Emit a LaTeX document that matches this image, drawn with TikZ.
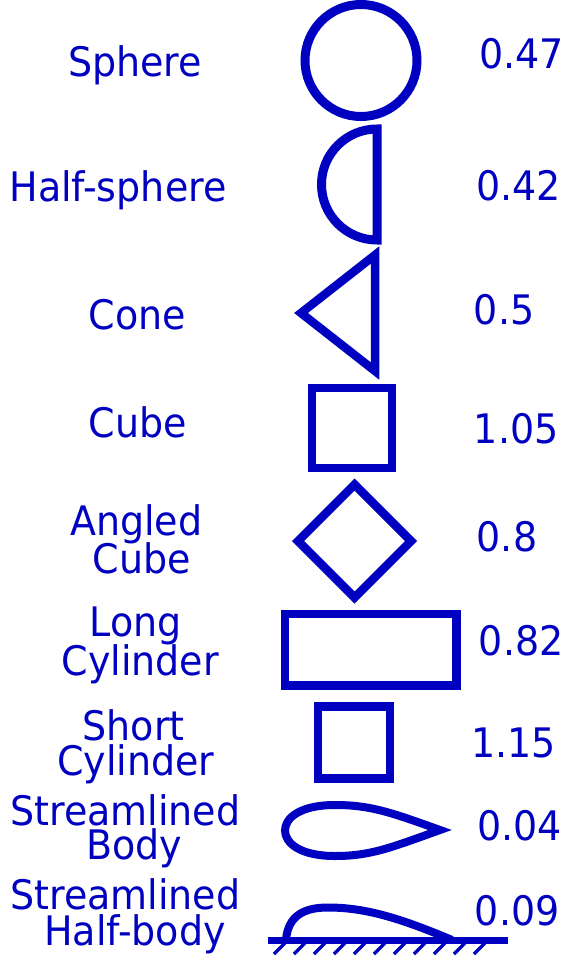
\documentclass[tikz,border=0pt]{standalone}
\usepackage{fontspec}
\setmainfont{DejaVu Sans}
\usepackage{graphicx}
\definecolor{dblue}{RGB}{0,0,192}
\newcommand\mystretch[1]{\scalebox{1}[1.07]{#1}}
\begin{document}
\begin{tikzpicture}[x=1pt,y=-1pt,
  lbl/.style={anchor=base,inner sep=0pt,text=dblue,font=\fontsize{38}{38}\selectfont},
  shp/.style={draw=dblue,line width=8.5pt,miter limit=10},
  hatchline/.style={draw=dblue,line width=3.5pt}]
\useasboundingbox (0,0) rectangle (566,958);
% labels
\node[lbl] (l1) at (135.2,76.7) {\mystretch{Sphere}};
\node[lbl] (l2) at (118,201.7) {\mystretch{Half-sphere}};
\node[lbl] (l3) at (137.5,329) {\mystretch{Cone}};
\node[lbl] (l4) at (137.8,437.3) {\mystretch{Cube}};
\node[lbl] (l5a) at (136.2,535) {\mystretch{Angled}};
\node[lbl] (l5b) at (141.8,573.3) {\mystretch{Cube}};
\node[lbl] (l6a) at (135.8,636.7) {\mystretch{Long}};
\node[lbl] (l6b) at (140.3,675) {\mystretch{Cylinder}};
\node[lbl] (l7a) at (133.7,740.7) {\mystretch{Short}};
\node[lbl] (l7b) at (135.7,775.7) {\mystretch{Cylinder}};
\node[lbl] (l8a) at (125.3,825.7) {\mystretch{Streamlined}};
\node[lbl] (l8b) at (134.5,859.3) {\mystretch{Body}};
\node[lbl] (l9a) at (125.3,909.3) {\mystretch{Streamlined}};
\node[lbl] (l9b) at (135,945) {\mystretch{Half-body}};
% values
\node[lbl] (v1) at (521.7,68.3) {\mystretch{0.47}};
\node[lbl] (v2) at (518.3,200) {\mystretch{0.42}};
\node[lbl] (v3) at (504.2,324.3) {\mystretch{0.5}};
\node[lbl] (v4) at (516.2,443.3) {\mystretch{1.05}};
\node[lbl] (v5) at (507,551.7) {\mystretch{0.8}};
\node[lbl] (v6) at (521.2,655.7) {\mystretch{0.82}};
\node[lbl] (v7) at (513.8,757.3) {\mystretch{1.15}};
\node[lbl] (v8) at (519.5,840.7) {\mystretch{0.04}};
\node[lbl] (v9) at (517.2,925) {\mystretch{0.09}};
% shapes
\draw[shp,line width=9pt] (361,60.5) circle[radius=56];
\draw[shp,line width=9pt] (377,129) arc[start angle=270,end angle=90,radius=55.5] -- cycle;
\draw[shp] (375,255) -- (301,313) -- (375,371) -- cycle;
\draw[shp] (312,388) rectangle (392,468);
\draw[shp] (354.5,484.5) -- (411,541) -- (354.5,597.5) -- (298,541) -- cycle;
\draw[shp] (285,614) rectangle (456.7,685.5);
\draw[shp] (318,706.7) rectangle (390,778.7);
\draw[shp,line width=8pt] (440,830) .. controls (390,812) and (370,805) .. (335,805)
  .. controls (300,805) and (285,818) .. (285,830.5)
  .. controls (285,843) and (300,856) .. (335,856)
  .. controls (370,856) and (390,848) .. cycle;
\draw[shp,line width=8pt,line join=round] (286,940) .. controls (288,915) and (305,907.5) .. (328,907.5)
  .. controls (365,907.5) and (400,918) .. (452,940);
\draw[shp,line width=7.5pt] (268.3,940.3) -- (508.3,940.3);
\foreach \k in {0,...,10}{
  \draw[hatchline] ({285+20*\k},943) -- ({285+20*\k-11},954);
}
\end{tikzpicture}
\end{document}
